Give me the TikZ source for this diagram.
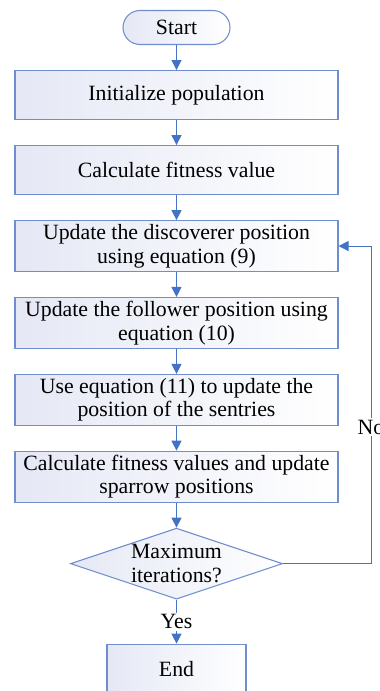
\documentclass[tikz,border=0pt]{standalone}
\usepackage{fontspec}
\setmainfont{Liberation Serif}
\usetikzlibrary{arrows.meta,positioning,shapes.geometric}

\definecolor{lineblue}{RGB}{68,114,196}
\definecolor{edgeblue}{RGB}{112,142,206}
\definecolor{fillblue}{RGB}{229,232,245}

\begin{document}
\begin{tikzpicture}[
    >={Triangle[width=5.7pt,length=5.7pt]},
    phase/.style={draw=edgeblue, line width=0.6pt, left color=fillblue,
      right color=white, minimum width=6.46cm, minimum height=0.98cm,
      font=\fontsize{12.4}{13.6}\selectfont, align=center, inner sep=2pt},
    term/.style={phase, rounded corners=0.34cm, minimum width=2.14cm,
      minimum height=0.68cm},
    choice/.style={phase, diamond, aspect=2.94, inner sep=0pt,
      minimum width=4.24cm, minimum height=1.42cm},
    label/.style={fill=white, inner sep=1pt,
      font=\fontsize{12.4}{13.6}\selectfont},
    arw/.style={->, draw=lineblue, line width=0.6pt},
  ]
    \useasboundingbox (0,0) rectangle (7.58,-13.82);

    % Start and main steps
    \node[term] (start) at (3.53,-0.55) {Start};
    \node[phase, below=0.5cm of start] (p1) {Initialize population};
    \node[phase, below=0.5cm of p1] (p2) {Calculate fitness value};
    \node[phase, below=0.5cm of p2] (p3) {Update the discoverer position\\using equation (9)};
    \node[phase, below=0.5cm of p3] (p4) {Update the follower position using\\equation (10)};
    \node[phase, below=0.5cm of p4] (p5) {Use equation (11) to update the\\position of the sentries};
    \node[phase, below=0.5cm of p5] (p6) {Calculate fitness values and update\\sparrow positions};

    % Decision and end
    \node[choice, below=0.5cm of p6] (dec) {Maximum\\iterations?};
    \node[phase, below=0.88cm of dec, minimum width=2.78cm] (stop) {End};

    % Arrows between steps
    \draw[arw] (start) -- (p1);
    \draw[arw] (p1) -- (p2);
    \draw[arw] (p2) -- (p3);
    \draw[arw] (p3) -- (p4);
    \draw[arw] (p4) -- (p5);
    \draw[arw] (p5) -- (p6);
    \draw[arw] (p6) -- (dec);
    \draw[arw] (dec) -- node[label] {Yes} (stop);

    % Loop back
    \draw[arw] (dec.east) -- ++(1.76,0) |- node[label, pos=0.215] {No} (p3.east);

  \end{tikzpicture}
\end{document}
